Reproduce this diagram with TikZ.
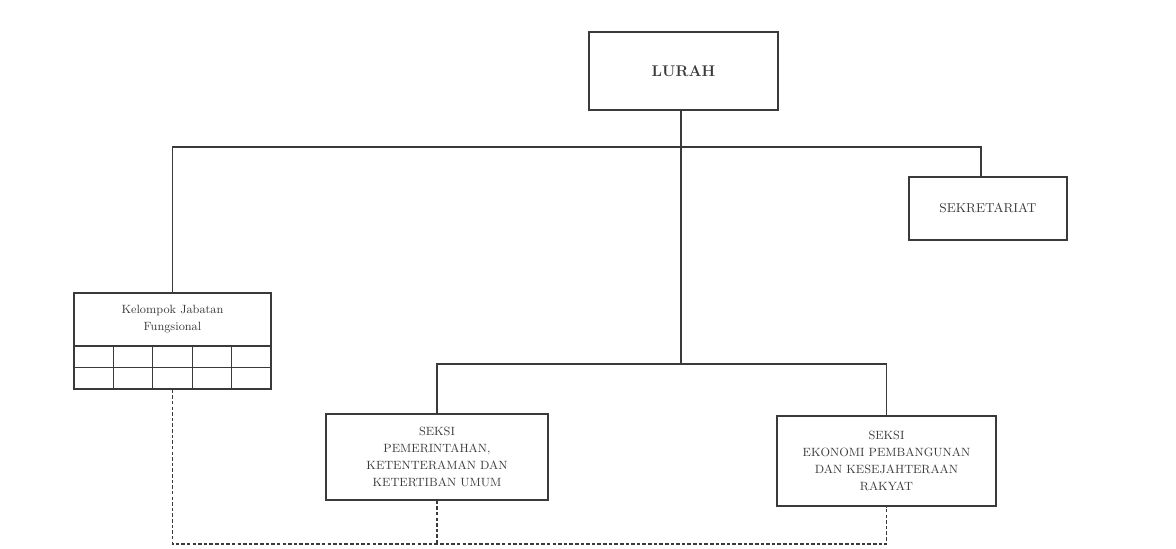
\documentclass[tikz,border=0pt]{standalone}
\usepackage{tikz}
\usetikzlibrary{positioning,calc}
\usepackage{xcolor}
\definecolor{inkgray}{HTML}{3a3a3a}

\begin{document}
\begin{tikzpicture}[
    x=0.025cm, y=-0.025cm,
    box/.style={draw=inkgray, line width=1pt, fill=white, align=center, inner sep=2pt, text=inkgray, font={\fontsize{8.5}{12}\selectfont}},
    cell/.style={draw=inkgray, line width=0.9pt, minimum width=0.985cm, minimum height=0.5375cm, inner sep=0pt},
    link/.style={draw=inkgray, line width=1pt},
    dline/.style={draw=inkgray, line width=1pt, dash pattern=on 2.5pt off 1.5pt},
]
\useasboundingbox (0,0) rectangle (1176,548);

% boxes
\node[box, minimum width=4.725cm, minimum height=1.95cm, font={\fontsize{11}{13}\selectfont\bfseries}] (lurah) at (683.5,71) {LURAH};
\node[box, minimum width=3.95cm, minimum height=1.575cm, font={\fontsize{9.2}{12}\selectfont}] (sekr) at (988,208.5) {SEKRETARIAT};
\node[box, minimum width=4.925cm, minimum height=1.325cm] (kjf) at (172.5,319.5) {Kelompok Jabatan\\Fungsional};
\foreach \i in {0,...,4}
  \foreach \j in {0,1}
    \node[cell] (c\i\j) at ({74+19.7+39.4*\i},{346+10.75+21.5*\j}) {};
\node[box, minimum width=5.55cm, minimum height=2.15cm] (seksipem) at (437,457) {SEKSI\\PEMERINTAHAN,\\KETENTERAMAN DAN\\KETERTIBAN UMUM};
\node[box, minimum width=5.475cm, minimum height=2.25cm] (seksieko) at (886.5,461) {SEKSI\\EKONOMI PEMBANGUNAN\\DAN KESEJAHTERAAN\\RAKYAT};

% solid lines
\coordinate (sdrop) at (981,147);
\coordinate (bus) at (681,364);
\draw[link] (kjf.north) |- (sdrop) -- (sdrop |- sekr.north);
\draw[link] (lurah.south -| bus) -- (bus);
\draw[link] (seksipem.north) |- (bus) -| (seksieko.north);

% dashed lines
\coordinate (dend) at (886.5,544);
\draw[dline] (c21.south) |- (dend) -- (seksieko.south);
\draw[dline] (seksipem.south) -- (seksipem.south |- dend);
\end{tikzpicture}
\end{document}
